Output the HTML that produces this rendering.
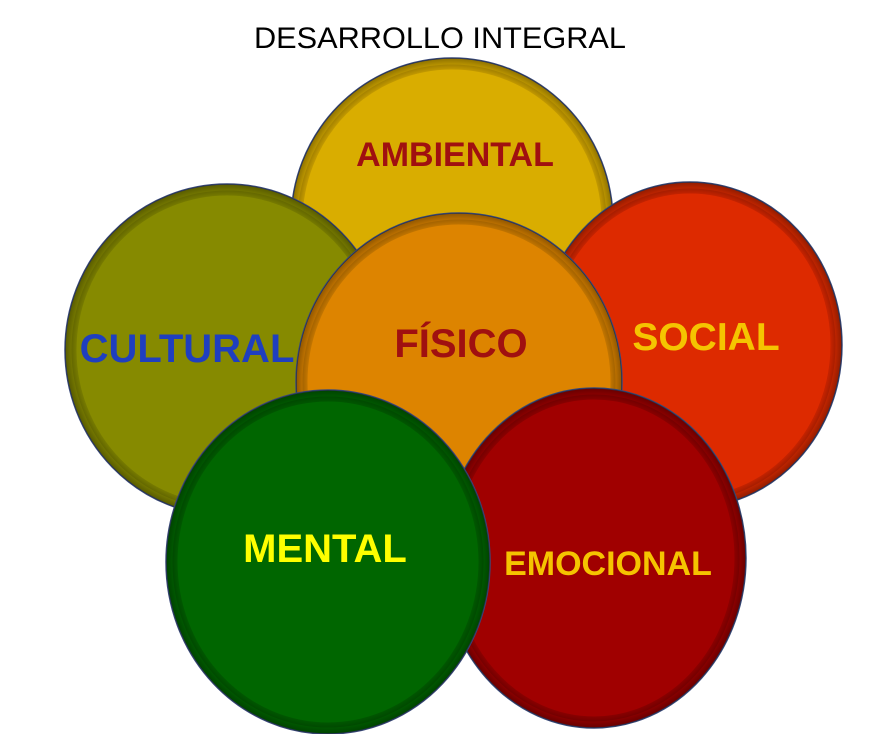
<!DOCTYPE html>
<html><head><meta charset="utf-8"><style>
html,body{margin:0;padding:0;background:#fff;}
svg{display:block}
text{font-family:"Liberation Sans",Arial,sans-serif;font-weight:bold;}
</style></head><body>
<svg width="877" height="734" viewBox="0 0 877 734" xmlns="http://www.w3.org/2000/svg">
<defs>
<radialGradient id="sh" cx="0.5" cy="0.5" r="0.5">
<stop offset="0.93" stop-color="#000" stop-opacity="0"/>
<stop offset="1" stop-color="#000" stop-opacity="0.35"/>
</radialGradient>
</defs>
<text x="440" y="48" text-anchor="middle" font-size="30" style="font-weight:normal" fill="#000" textLength="372" lengthAdjust="spacingAndGlyphs">DESARROLLO INTEGRAL</text>

<g>
<ellipse cx="452" cy="222" rx="161" ry="164" fill="#d9ad00" stroke="#3a4a7a" stroke-width="1.5"/>
<ellipse cx="452" cy="222" rx="152" ry="155" fill="none" stroke="#b08a00" stroke-width="5" opacity="0.6"/>
<ellipse cx="452" cy="222" rx="161" ry="164" fill="url(#sh)"/>
</g>
<g>
<ellipse cx="227" cy="350" rx="162" ry="166" fill="#868a00" stroke="#3a4a7a" stroke-width="1.5"/>
<ellipse cx="227" cy="350" rx="153" ry="157" fill="none" stroke="#6d7000" stroke-width="5" opacity="0.6"/>
<ellipse cx="227" cy="350" rx="162" ry="166" fill="url(#sh)"/>
</g>
<g>
<ellipse cx="690" cy="345" rx="152" ry="163" fill="#dd2a00" stroke="#3a4a7a" stroke-width="1.5"/>
<ellipse cx="690" cy="345" rx="143" ry="154" fill="none" stroke="#b01e00" stroke-width="5" opacity="0.6"/>
<ellipse cx="690" cy="345" rx="152" ry="163" fill="url(#sh)"/>
</g>
<g>
<ellipse cx="459" cy="382" rx="163" ry="169" fill="#dd8400" stroke="#3a4a7a" stroke-width="1.5"/>
<ellipse cx="459" cy="382" rx="154" ry="160" fill="none" stroke="#b06a00" stroke-width="5" opacity="0.6"/>
<ellipse cx="459" cy="382" rx="163" ry="169" fill="url(#sh)"/>
</g>
<g>
<ellipse cx="594" cy="558" rx="152" ry="170" fill="#a00000" stroke="#3a4a7a" stroke-width="1.5"/>
<ellipse cx="594" cy="558" rx="143" ry="161" fill="none" stroke="#7a0000" stroke-width="5" opacity="0.6"/>
<ellipse cx="594" cy="558" rx="152" ry="170" fill="url(#sh)"/>
</g>
<g>
<ellipse cx="328" cy="562" rx="162" ry="172" fill="#006600" stroke="#3a4a7a" stroke-width="1.5"/>
<ellipse cx="328" cy="562" rx="153" ry="163" fill="none" stroke="#004d00" stroke-width="5" opacity="0.6"/>
<ellipse cx="328" cy="562" rx="162" ry="172" fill="url(#sh)"/>
</g>

<text x="455" y="166" text-anchor="middle" font-size="34" fill="#a01010">AMBIENTAL</text>
<text x="187" y="362" text-anchor="middle" font-size="40" fill="#1f3fbf">CULTURAL</text>
<text x="706" y="350" text-anchor="middle" font-size="39" fill="#f5c400">SOCIAL</text>
<text x="461" y="357" text-anchor="middle" font-size="40" fill="#a01010">FÍSICO</text>
<text x="325" y="562" text-anchor="middle" font-size="40" fill="#ffff00">MENTAL</text>
<text x="608" y="575" text-anchor="middle" font-size="34" fill="#f5c400">EMOCIONAL</text>
</svg>
</body></html>
